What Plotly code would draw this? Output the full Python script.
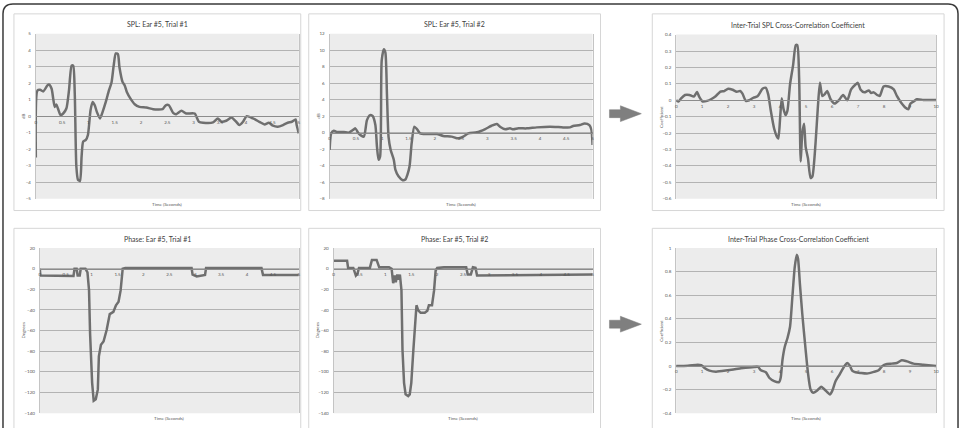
import plotly.graph_objects as go

W, H = 965, 428


def px(x):
    return x / W


def py(y):
    return 1 - y / H


# ---------------- data ----------------
# SPL: Ear #5, Trial #1
t1 = [0, 0.03, 0.08, 0.14, 0.22, 0.25, 0.3, 0.33, 0.36, 0.39, 0.42, 0.47, 0.52, 0.58, 0.63, 0.68, 0.71, 0.74, 0.77, 0.8,
      0.84, 0.87, 0.9, 0.95, 0.99, 1.04, 1.08, 1.12, 1.16, 1.22, 1.27, 1.33, 1.39, 1.44, 1.48, 1.52, 1.56, 1.59, 1.65, 1.69,
      1.73, 1.8, 1.88, 1.97, 2.1, 2.23, 2.32, 2.41, 2.47, 2.53, 2.61, 2.67, 2.77, 2.86, 3.02, 3.1, 3.18, 3.37, 3.46, 3.53,
      3.62, 3.72, 3.81, 3.87, 3.94, 4.01, 4.13, 4.25, 4.35, 4.43, 4.51, 4.6, 4.7, 4.79, 4.87, 4.94, 4.96, 5.0]
spl1 = [-2.5, 1.56, 1.6, 1.5, 1.86, 1.92, 1.66, 1.06, 0.56, 0.7, 0.46, 0.06, 0.16, 0.46, 1.56, 3.06, 3.06, 1.36, -3.04, -3.84,
        -3.94, -2.44, -1.54, -1.44, -1.14, 0.36, 0.86, 0.66, 0.26, -0.14, 0.26, 0.86, 1.56, 2.06, 3.06, 3.8, 3.76, 2.96, 2.06, 1.86,
        1.46, 1.06, 0.72, 0.56, 0.52, 0.42, 0.4, 0.42, 0.66, 0.66, 0.2, 0.12, 0.32, 0.16, 0.16, -0.34, -0.4, -0.38, -0.14, -0.34,
        -0.28, -0.08, -0.34, -0.54, -0.34, 0, -0.14, -0.34, -0.5, -0.4, -0.58, -0.64, -0.54, -0.4, -0.34, -0.2, -0.54, -1.04]

# SPL: Ear #5, Trial #2
t2 = [0, 0.03, 0.08, 0.14, 0.27, 0.36, 0.46, 0.49, 0.55, 0.65, 0.71, 0.77, 0.82, 0.87, 0.9, 0.93, 0.96, 0.99, 1.03, 1.06,
      1.09, 1.12, 1.16, 1.22, 1.25, 1.31, 1.39, 1.44, 1.48, 1.52, 1.56, 1.61, 1.66, 1.72, 1.85, 2.04, 2.16, 2.32, 2.42, 2.48,
      2.54, 2.64, 2.8, 2.96, 3.08, 3.18, 3.24, 3.34, 3.43, 3.49, 3.59, 3.75, 3.94, 4.19, 4.44, 4.57, 4.63, 4.76, 4.85, 4.94,
      4.98, 5.0]
spl2 = [-2.08, -0.08, 0.24, 0.08, 0.08, 0, 0.4, 0.52, -0.08, -0.48, 1.52, 2.12, 2.0, 0.92, -1.68, -3.28, -2.88, 8.72, 10.12, 9.72,
        4.72, -0.48, -2.08, -3.28, -4.48, -5.28, -5.76, -5.68, -5.08, -4.08, -1.28, 0.72, 0.44, -0.08, -0.16, -0.16, -0.4, -0.48, -0.68, -0.64,
        -0.48, -0.08, 0.04, 0.44, 0.84, 1.04, 0.72, 0.4, 0.52, 0.4, 0.52, 0.52, 0.64, 0.72, 0.64, 0.64, 0.8, 0.92, 1.12, 0.92,
        0.32, -1.5]

# Inter-Trial SPL Cross-Correlation Coefficient
t3 = [0, 0.09, 0.19, 0.34, 0.51, 0.68, 0.8, 0.89, 1.02, 1.19, 1.34, 1.53, 1.7, 1.85, 2.0, 2.17, 2.33, 2.46, 2.55, 2.68,
      2.81, 2.98, 3.13, 3.32, 3.45, 3.54, 3.64, 3.77, 3.87, 3.93, 4.0, 4.06, 4.13, 4.21, 4.28, 4.38, 4.5, 4.6, 4.66, 4.73,
      4.79, 4.85, 4.92, 4.98, 5.07, 5.17, 5.24, 5.36, 5.45, 5.53, 5.62, 5.71, 5.81, 5.94, 6.09, 6.26, 6.42, 6.58, 6.73, 6.9,
      6.99, 7.09, 7.24, 7.41, 7.5, 7.6, 7.73, 7.83, 7.98, 8.17, 8.37, 8.49, 8.65, 8.81, 8.94, 9.0, 9.07, 9.13, 9.26, 9.51,
      9.77, 10.0]
xc_spl = [0, -0.008, 0.012, 0.032, 0.032, 0.022, 0.05, 0.02, -0.008, -0.004, 0.006, 0.026, 0.052, 0.056, 0.07, 0.064, 0.052, 0.056, 0.04, -0.004,
          0, 0.016, 0.024, 0.07, 0.076, 0.036, -0.064, -0.174, -0.22, -0.234, -0.104, 0.012, -0.054, -0.09, -0.064, 0.096, 0.216, 0.336, 0.336, 0.136,
          -0.374, -0.204, -0.144, -0.284, -0.354, -0.474, -0.464, -0.264, -0.044, 0.106, 0.026, 0.036, 0.056, 0.006, -0.02, 0, 0.032, 0, 0.066, 0.096,
          0.106, 0.066, 0.048, 0.06, 0.044, 0.048, 0.032, 0.026, 0.084, 0.084, 0.066, 0.026, -0.014, -0.044, -0.054, -0.024, -0.014, -0.008, 0.006, 0.002,
          0.002, 0.002]

# Phase: Ear #5, Trial #1
t4 = [0, 0.01, 0.65, 0.67, 0.71, 0.73, 0.77, 0.79, 0.88, 0.92, 0.95, 0.97, 1.01, 1.04, 1.08, 1.12, 1.14, 1.18, 1.23, 1.29,
      1.35, 1.42, 1.47, 1.52, 1.56, 1.6, 1.65, 2.93, 2.95, 3.03, 3.19, 3.21, 4.28, 4.31, 5.0]
ph1 = [0, -6.6, -7, 0, 0, -6.6, -6.6, 0, 0, -3.5, -21, -62.6, -110.6, -128, -126.6, -117, -85, -73.8, -70.6, -59.4,
       -44, -41.8, -35.4, -32, -21, 0, 0.6, 0.6, -5.8, -7.5, -6, 0.6, 0.6, -6, -6]

# Phase: Ear #5, Trial #2
t5 = [0, 0.26, 0.28, 0.38, 0.43, 0.46, 0.49, 0.7, 0.74, 0.83, 0.88, 1.07, 1.12, 1.15, 1.18, 1.2, 1.23, 1.26, 1.28, 1.31,
      1.33, 1.36, 1.39, 1.44, 1.47, 1.5, 1.54, 1.57, 1.6, 1.63, 1.68, 1.76, 1.81, 1.84, 1.9, 1.94, 1.97, 2.0, 2.13, 2.56,
      2.59, 2.65, 2.69, 2.74, 2.77, 5.0]
ph2 = [7.8, 7.8, 0.8, 0.8, -6.6, -5, 0.8, 0.8, 8.5, 8.5, 1.4, 1.4, 0, -14, -6.6, -13, -5.6, -10.7, -5.6, -21,
       -78.6, -110.6, -121.8, -123.4, -121.8, -110.6, -78.6, -53, -35.4, -40, -42.7, -42.7, -40.8, -35.4, -35.4, -21, -1.8, 0.8, 1.4, 1.4,
       -5.6, -5.6, 1.4, 0.8, -6.6, -5.6]

# Inter-Trial Phase Cross-Correlation Coefficient
t6 = [0, 0.45, 0.83, 0.96, 1.09, 1.28, 1.53, 1.98, 2.49, 3.0, 3.15, 3.26, 3.45, 3.58, 3.77, 3.96, 4.02, 4.09, 4.18, 4.28,
      4.38, 4.47, 4.56, 4.64, 4.69, 4.76, 4.85, 4.98, 5.07, 5.17, 5.27, 5.4, 5.49, 5.58, 5.68, 5.81, 5.91, 6.0, 6.13, 6.26,
      6.39, 6.51, 6.58, 6.68, 6.77, 6.9, 7.09, 7.34, 7.6, 7.79, 7.92, 8.05, 8.3, 8.49, 8.68, 8.88, 9.13, 9.51, 10.0]
xc_ph = [0, 0.003, 0.011, 0.008, -0.017, -0.039, -0.048, -0.036, -0.02, -0.008, -0.008, -0.036, -0.053, -0.1, -0.129, -0.137, -0.1, 0.053, 0.165, 0.235,
         0.333, 0.585, 0.837, 0.944, 0.907, 0.697, 0.445, 0.137, -0.059, -0.199, -0.227, -0.213, -0.193, -0.176, -0.193, -0.221, -0.241, -0.213, -0.129, -0.081,
         -0.031, 0.011, 0.025, 0.003, -0.039, -0.053, -0.059, -0.064, -0.05, -0.036, -0.003, 0.014, 0.02, 0.025, 0.048, 0.039, 0.02, 0.011, 0]

titles = ["SPL: Ear #5, Trial #1", "SPL: Ear #5, Trial #2", "Inter-Trial SPL Cross-Correlation Coefficient",
          "Phase: Ear #5, Trial #1", "Phase: Ear #5, Trial #2", "Inter-Trial Phase Cross-Correlation Coefficient"]
y_titles = ["dB", "dB", "Coefficient", "Degrees", "Degrees", "Coefficient"]
x_title = "Time (Seconds)"

# ---------------- layout geometry (pixels) ----------------
panels = [
    dict(t=t1, v=spl1, xd=(35, 299), yd=(32, 199), xr=(0, 5), xdt=0.5, yr=(-5, 5), ydt=1,
         box=(13, 12, 301, 211), ytx=22, smooth=True),
    dict(t=t2, v=spl2, xd=(330, 594), yd=(32, 199), xr=(0, 5), xdt=0.5, yr=(-8, 12), ydt=2,
         box=(309, 12, 602, 211), ytx=318, smooth=True),
    dict(t=t3, v=xc_spl, xd=(678, 939), yd=(33, 199), xr=(0, 10), xdt=1, yr=(-0.6, 0.4), ydt=0.1,
         box=(654, 12, 947, 211), ytx=663, smooth=True),
    dict(t=t4, v=ph1, xd=(39, 299), yd=(249, 416), xr=(0, 5), xdt=0.5, yr=(-140, 20), ydt=20,
         box=(13, 229, 301, 440), ytx=23, smooth=False),
    dict(t=t5, v=ph2, xd=(334, 594), yd=(249, 416), xr=(0, 5), xdt=0.5, yr=(-140, 20), ydt=20,
         box=(309, 229, 602, 440), ytx=318, smooth=False),
    dict(t=t6, v=xc_ph, xd=(678, 939), yd=(249, 416), xr=(0, 10), xdt=1, yr=(-0.4, 1), ydt=0.2,
         box=(654, 229, 947, 440), ytx=663, smooth=True),
]

LINE = "#6f6f6f"
GRID = "#b3b3b3"
TXT = "#404040"
FONT = "Lato"

fig = go.Figure()
shapes = []
annotations = []

# outer rounded border
x0, y0, x1, y1, r = 2, 2, 961, 460, 10
path = (f"M {px(x0 + r)} {py(y0)} L {px(x1 - r)} {py(y0)} Q {px(x1)} {py(y0)} {px(x1)} {py(y0 + r)} "
        f"L {px(x1)} {py(y1)} L {px(x0)} {py(y1)} L {px(x0)} {py(y0 + r)} Q {px(x0)} {py(y0)} {px(x0 + r)} {py(y0)} Z")
shapes.append(dict(type="path", xref="paper", yref="paper", path=path,
                   line=dict(color="#3a3a3a", width=1.5), fillcolor="rgba(0,0,0,0)", layer="below"))

for i, p in enumerate(panels):
    n = "" if i == 0 else str(i + 1)
    xa, ya = "x" + n, "y" + n
    bx0, by0, bx1, by1 = p["box"]
    shapes.append(dict(type="rect", xref="paper", yref="paper", x0=px(bx0), x1=px(bx1), y0=py(by1), y1=py(by0),
                       line=dict(color="#d6d6d6", width=1), fillcolor="white", layer="below"))
    ydom = [py(p["yd"][1]), py(p["yd"][0])]
    xdom = [px(p["xd"][0]), px(p["xd"][1])]
    ymin, ymax = p["yr"]
    zero_pos = ydom[0] + (0 - ymin) / (ymax - ymin) * (ydom[1] - ydom[0])
    fig.add_trace(go.Scatter(
        x=p["t"], y=p["v"], mode="lines", xaxis=xa, yaxis=ya, showlegend=False, hoverinfo="skip",
        line=dict(color=LINE, width=2.5, shape="spline" if p["smooth"] else "linear", smoothing=0.6),
    ))
    fig.layout["xaxis" + n] = dict(
        domain=xdom, range=list(p["xr"]), dtick=p["xdt"], tick0=0, anchor="free", position=zero_pos,
        showgrid=False, zeroline=False, showline=True, linecolor="#8c8c8c", linewidth=1,
        ticks="", tickfont=dict(size=4.5, color="#555555", family=FONT), ticklabelstandoff=1,
    )
    fig.layout["yaxis" + n] = dict(
        domain=ydom, range=[ymin, ymax], dtick=p["ydt"], tick0=ymin, anchor=xa,
        showgrid=True, gridcolor=GRID, gridwidth=0.8, zeroline=False,
        showline=True, mirror=True, linecolor="#c4c4c4", linewidth=1,
        ticks="", tickfont=dict(size=4.5, color="#555555", family=FONT), ticklabelstandoff=3,
    )
    # plot-area background
    shapes.append(dict(type="rect", xref="paper", yref="paper", x0=xdom[0], x1=xdom[1], y0=ydom[0], y1=ydom[1],
                       line=dict(width=0), fillcolor="#ececec", layer="below"))
    # title
    annotations.append(dict(text=titles[i], xref="paper", yref="paper", x=px((bx0 + bx1) / 2),
                            y=py(by0 + 11), xanchor="center", yanchor="middle", showarrow=False,
                            font=dict(size=7, color=TXT, family=FONT)))
    # x-axis title
    annotations.append(dict(text=x_title, xref="paper", yref="paper", x=(xdom[0] + xdom[1]) / 2,
                            y=ydom[0] - 1 / H, xanchor="center", yanchor="top", showarrow=False,
                            font=dict(size=4.5, color="#555555", family=FONT)))
    # y-axis title
    annotations.append(dict(text=y_titles[i], xref="paper", yref="paper", x=px(p["ytx"]),
                            y=(ydom[0] + ydom[1]) / 2, xanchor="center", yanchor="middle", showarrow=False,
                            textangle=-90, font=dict(size=4.5, color="#555555", family=FONT)))

# arrows between panels
for cy in (113, 326):
    apath = (f"M {px(611)} {py(cy - 4)} L {px(622)} {py(cy - 4)} L {px(622)} {py(cy - 8)} "
             f"L {px(643)} {py(cy)} L {px(622)} {py(cy + 8)} L {px(622)} {py(cy + 4)} L {px(611)} {py(cy + 4)} Z")
    shapes.append(dict(type="path", xref="paper", yref="paper", path=apath,
                       line=dict(color="#7a7a7a", width=0.5), fillcolor="#7f7f7f"))

fig.update_layout(
    width=W, height=H, margin=dict(l=0, r=0, t=0, b=0),
    paper_bgcolor="white", plot_bgcolor="rgba(0,0,0,0)",
    shapes=shapes, annotations=annotations, showlegend=False,
)

fig.write_html("out.html")
